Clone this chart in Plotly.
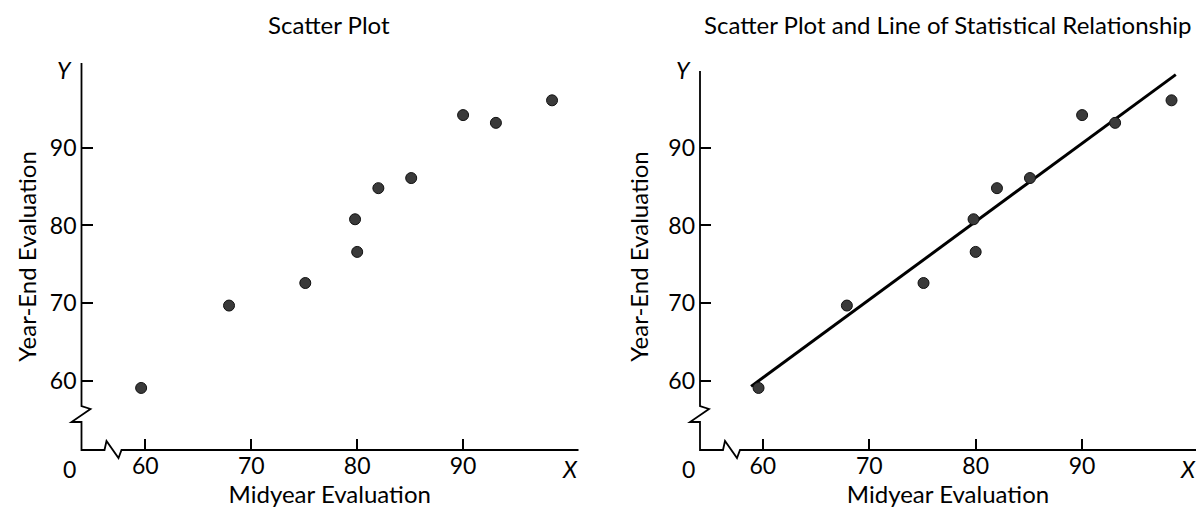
import plotly.graph_objects as go

# ---- data ----
midyear = [59.6, 67.9, 75.1, 79.8, 80.0, 82.0, 85.1, 90.0, 93.1, 98.4]
yearend = [59.1, 69.7, 72.6, 80.8, 76.6, 84.8, 86.1, 94.2, 93.2, 96.1]
fit_x = [58.9, 98.8]
fit_y = [59.3, 99.4]
tick_vals = [60, 70, 80, 90]
left_title = "Scatter Plot"
right_title = "Scatter Plot and Line of Statistical Relationship"
x_title = "Midyear Evaluation"
y_title = "Year-End Evaluation"

W, H = 1196, 517
FONT = "Lato"
XR1 = [53.97, 100.85]
XR2 = [54.1, 100.7]
YR = [51.12, 100.9]
X1_DOM = [81.5 / W, 578 / W]
X2_DOM = [700 / W, 1.0]
Y_DOM = [(H - 450) / H, (H - 63) / H]

fig = go.Figure()

marker = dict(size=11, color="#3a3a3a", line=dict(color="#111111", width=1))
fig.add_trace(go.Scatter(x=midyear, y=yearend, mode="markers", xaxis="x", yaxis="y",
                         marker=marker, showlegend=False, hoverinfo="skip"))
fig.add_trace(go.Scatter(x=fit_x, y=fit_y, mode="lines", xaxis="x2", yaxis="y2",
                         line=dict(color="black", width=3), showlegend=False, hoverinfo="skip"))
fig.add_trace(go.Scatter(x=midyear, y=yearend, mode="markers", xaxis="x2", yaxis="y2",
                         marker=marker, showlegend=False, hoverinfo="skip"))

tickfont = dict(family=FONT, size=23, color="black")
titlefont = dict(family=FONT, size=24, color="black")
common = dict(showgrid=False, zeroline=False, showline=False, ticks="inside", ticklen=11,
              tickwidth=1.6, tickcolor="black", tickvals=tick_vals, tickfont=tickfont,
              fixedrange=True)

fig.update_layout(
    width=W, height=H,
    margin=dict(l=0, r=0, t=0, b=0),
    paper_bgcolor="white", plot_bgcolor="white",
    xaxis=dict(domain=X1_DOM, range=XR1, anchor="y",
               title=dict(text=x_title, font=titlefont, standoff=2), **common),
    yaxis=dict(domain=Y_DOM, range=YR, anchor="x", ticklabelstandoff=4,
               title=dict(text=y_title, font=titlefont, standoff=6), **common),
    xaxis2=dict(domain=X2_DOM, range=XR2, anchor="y2",
                title=dict(text=x_title, font=titlefont, standoff=2), **common),
    yaxis2=dict(domain=Y_DOM, range=YR, anchor="x2", ticklabelstandoff=4,
                title=dict(text=y_title, font=titlefont, standoff=12), **common),
)


def axis_path(xlen, ylen):
    pts = [(0, ylen), (0, 44), (9, 41), (-10, 28), (0, 28), (0, 0),
           (23, 0), (25, 9), (37, -8), (40, 0), (xlen, 0)]
    return "M " + " L ".join(f"{x},{y}" for x, y in pts)


shapes = [
    dict(type="path", xref="paper", yref="paper", xsizemode="pixel", ysizemode="pixel",
         xanchor=X1_DOM[0], yanchor=Y_DOM[0], path=axis_path(497, 387),
         line=dict(color="black", width=1.8)),
    dict(type="path", xref="paper", yref="paper", xsizemode="pixel", ysizemode="pixel",
         xanchor=X2_DOM[0], yanchor=Y_DOM[0], path=axis_path(500, 379),
         line=dict(color="black", width=1.8)),
]
fig.update_layout(shapes=shapes)

ann = []
for xr, yr, t, cx in (("x", "y", left_title, 329), ("x2", "y2", right_title, 948)):
    ann.append(dict(text=t, xref="paper", yref="paper", x=cx / W, y=(H - 25) / H,
                    xanchor="center", yanchor="middle", showarrow=False, font=titlefont))
    ann.append(dict(text="<i>Y</i>", xref=f"{xr} domain", yref=f"{yr} domain", x=0, y=1,
                    xshift=-17, yshift=-7, xanchor="center", yanchor="middle",
                    showarrow=False, font=tickfont))
    ann.append(dict(text="<i>X</i>", xref=f"{xr} domain", yref=f"{yr} domain", x=1, y=0,
                    xshift=-8, yshift=-19, xanchor="center", yanchor="middle",
                    showarrow=False, font=tickfont))
    ann.append(dict(text="0", xref=f"{xr} domain", yref=f"{yr} domain", x=0, y=0,
                    xshift=-12, yshift=-19, xanchor="center", yanchor="middle",
                    showarrow=False, font=tickfont))
fig.update_layout(annotations=ann)

fig.write_html("out.html", config={"displayModeBar": False},
               post_script="document.body.style.margin='0';document.body.style.padding='0';")
